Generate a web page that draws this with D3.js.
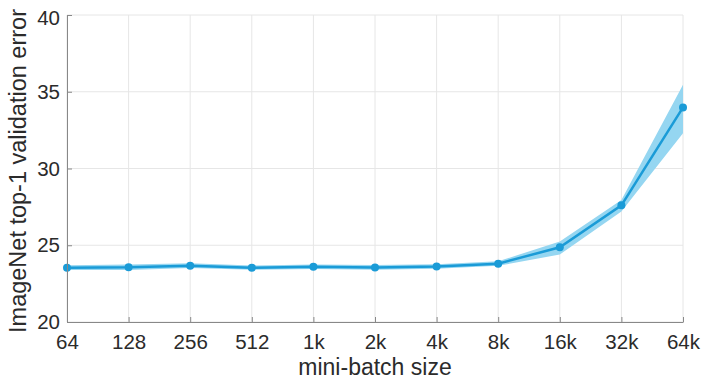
<!DOCTYPE html>
<html>
<head>
<meta charset="utf-8">
<script src="https://cdn.jsdelivr.net/npm/d3@7"></script>
<style>
  html, body { margin: 0; padding: 0; background: #fff; }
  svg { display: block; font-family: "Liberation Sans", Arial, Helvetica, sans-serif; }
</style>
</head>
<body>
<div id="chart"></div>
<script>
// mini-batch sizes (categorical, log2 spaced)
var batchLabels = ['64', '128', '256', '512', '1k', '2k', '4k', '8k', '16k', '32k', '64k'];
// mean top-1 error
var errMean = [23.54, 23.56, 23.67, 23.54, 23.6, 23.55, 23.62, 23.8, 24.87, 27.6, 33.98];
// shaded band (min / max)
var errLow  = [23.38, 23.38, 23.52, 23.4, 23.45, 23.4, 23.47, 23.66, 24.4, 27.2, 32.3];
var errHigh = [23.7, 23.74, 23.82, 23.68, 23.75, 23.72, 23.77, 23.95, 25.25, 27.95, 35.45];
var yTicks = [20, 25, 30, 35, 40];

var W = 703, H = 382;
var margin = { top: 15, right: 20, bottom: 60, left: 67 };

var svg = d3.select('#chart').append('svg')
    .attr('width', W).attr('height', H);

var x = d3.scalePoint()
    .domain(batchLabels)
    .range([margin.left, W - margin.right]);

var y = d3.scaleLinear()
    .domain([20, 40])
    .range([H - margin.bottom, margin.top]);

// grid
var grid = svg.append('g').attr('class', 'grid');
grid.selectAll('line.gx').data(batchLabels).enter().append('line')
    .attr('x1', function (d) { return x(d); }).attr('x2', function (d) { return x(d); })
    .attr('y1', y(20)).attr('y2', y(40))
    .attr('stroke', '#e6e6e6').attr('stroke-width', 1);
grid.selectAll('line.gy').data(yTicks).enter().append('line')
    .attr('x1', x('64')).attr('x2', x('64k'))
    .attr('y1', function (d) { return y(d); }).attr('y2', function (d) { return y(d); })
    .attr('stroke', '#e6e6e6').attr('stroke-width', 1);

// band
var rows = batchLabels.map(function (b, i) {
    return { b: b, m: errMean[i], lo: errLow[i], hi: errHigh[i] };
});

svg.append('path')
    .datum(rows)
    .attr('fill', '#95d6f1')
    .attr('d', d3.area()
        .x(function (d) { return x(d.b); })
        .y0(function (d) { return y(d.lo); })
        .y1(function (d) { return y(d.hi); }));

// mean line
svg.append('path')
    .datum(rows)
    .attr('fill', 'none')
    .attr('stroke', '#1a9bd7')
    .attr('stroke-width', 2.5)
    .attr('d', d3.line()
        .x(function (d) { return x(d.b); })
        .y(function (d) { return y(d.m); }));

svg.selectAll('circle.pt').data(rows).enter().append('circle')
    .attr('cx', function (d) { return x(d.b); })
    .attr('cy', function (d) { return y(d.m); })
    .attr('r', 4)
    .attr('fill', '#1a9bd7');

// axes
var xAxis = d3.axisBottom(x).tickSizeInner(-5).tickSizeOuter(0).tickPadding(12);
var yAxis = d3.axisLeft(y).tickValues(yTicks).tickSizeInner(-5).tickSizeOuter(0).tickPadding(7);

var gx = svg.append('g')
    .attr('transform', 'translate(0,' + y(20) + ')')
    .call(xAxis);
var gy = svg.append('g')
    .attr('transform', 'translate(' + margin.left + ',0)')
    .call(yAxis);

[gx, gy].forEach(function (g) {
    g.select('.domain').attr('stroke', '#888').attr('stroke-width', 1);
    g.selectAll('.tick line').attr('stroke', '#888');
    g.selectAll('.tick text')
        .attr('fill', '#2b2b2b')
        .style('font-size', '20.5px')
        .style('font-family', '"Liberation Sans", Arial, sans-serif');
});
gy.select('.tick:last-of-type text').attr('dy', '0.45em');

// axis titles
svg.append('text')
    .attr('x', (margin.left + W - margin.right) / 2)
    .attr('y', 375)
    .attr('text-anchor', 'middle')
    .attr('fill', '#2b2b2b')
    .style('font-size', '23px')
    .text('mini-batch size');

svg.append('text')
    .attr('transform', 'translate(26,171) rotate(-90)')
    .attr('text-anchor', 'middle')
    .attr('fill', '#2b2b2b')
    .style('font-size', '23.5px')
    .text('ImageNet top-1 validation error');
</script>
</body>
</html>
